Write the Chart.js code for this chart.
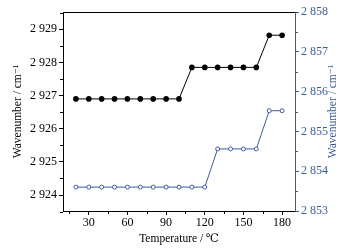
<!DOCTYPE html>
<html>
<head>
<meta charset="utf-8">
<script src="https://cdn.jsdelivr.net/npm/chart.js@4/dist/chart.umd.min.js"></script>
<style>
  html, body { margin: 0; padding: 0; background: #fff; }
  #wrap { width: 350px; height: 248px; }
</style>
</head>
<body>
<div id="wrap"><canvas id="chart" width="350" height="248"></canvas></div>
<script>
'use strict';

// data
const temperatures = [20, 30, 40, 50, 60, 70, 80, 90, 100, 110, 120, 130, 140, 150, 160, 170, 180];
const blackSeries = [2926.9, 2926.9, 2926.9, 2926.9, 2926.9, 2926.9, 2926.9, 2926.9, 2926.9,
  2927.85, 2927.85, 2927.85, 2927.85, 2927.85, 2927.85, 2928.82, 2928.82];
const blueSeries = [2853.6, 2853.6, 2853.6, 2853.6, 2853.6, 2853.6, 2853.6, 2853.6, 2853.6, 2853.6, 2853.6,
  2854.56, 2854.56, 2854.56, 2854.56, 2855.52, 2855.52];

const xTicks = [30, 60, 90, 120, 150, 180];
const leftTicks = [2924, 2925, 2926, 2927, 2928, 2929];
const rightTicks = [2853, 2854, 2855, 2856, 2857, 2858];
const yTitle = 'Wavenumber / cm\u207B\u00B9';

const blue = '#3d5b9b';
const family = '"Liberation Serif", "DejaVu Serif", serif';
const tickFont = { family, size: 12 };
const titleFont = { family, size: 11.5 };

const fmt = v => {
  const s = String(Math.round(v));
  return s.length > 3 ? s.slice(0, s.length - 3) + ' ' + s.slice(-3) : s;
};

// minor ticks halfway between the major ones, drawn outward, plus the top frame
// and the right title (which reads bottom to top like the left one)
const extras = {
  id: 'extras',
  afterDraw(chart) {
    const ctx = chart.ctx;
    const area = chart.chartArea;
    ctx.save();
    ctx.lineWidth = 1;

    const xs = chart.scales.x;
    ctx.strokeStyle = '#000';
    for (let v = 15; v <= 185; v += 30) {
      const px = Math.round(xs.getPixelForValue(v)) + 0.5;
      ctx.beginPath(); ctx.moveTo(px, area.bottom); ctx.lineTo(px, area.bottom + 3); ctx.stroke();
    }
    const yl = chart.scales.y;
    for (let v = 2923.5; v <= 2929.5; v += 1) {
      const py = Math.round(yl.getPixelForValue(v)) + 0.5;
      ctx.beginPath(); ctx.moveTo(area.left, py); ctx.lineTo(area.left - 3, py); ctx.stroke();
    }
    const yr = chart.scales.y1;
    ctx.strokeStyle = blue;
    for (let v = 2853.5; v <= 2858; v += 1) {
      const py = Math.round(yr.getPixelForValue(v)) + 0.5;
      ctx.beginPath(); ctx.moveTo(area.right, py); ctx.lineTo(area.right + 3, py); ctx.stroke();
    }
    ctx.strokeStyle = '#000';
    ctx.beginPath(); ctx.moveTo(area.left, area.top + 0.5); ctx.lineTo(area.right, area.top + 0.5); ctx.stroke();

    ctx.translate(333, (area.top + area.bottom) / 2);
    ctx.rotate(-Math.PI / 2);
    ctx.fillStyle = blue;
    ctx.font = `${titleFont.size}px ${family}`;
    ctx.textAlign = 'center';
    ctx.textBaseline = 'middle';
    ctx.fillText(yTitle, 0, 0);
    ctx.restore();
  }
};

new Chart(document.getElementById('chart'), {
  type: 'line',
  data: {
    datasets: [
      {
        data: temperatures.map((t, i) => ({ x: t, y: blackSeries[i] })),
        yAxisID: 'y',
        borderColor: '#000',
        borderWidth: 1,
        pointRadius: 2.8,
        pointBackgroundColor: '#000',
        pointBorderColor: '#000',
        pointBorderWidth: 0,
        tension: 0,
      },
      {
        data: temperatures.map((t, i) => ({ x: t, y: blueSeries[i] })),
        yAxisID: 'y1',
        borderColor: blue,
        borderWidth: 1,
        pointRadius: 2,
        pointBackgroundColor: '#fff',
        pointBorderColor: blue,
        pointBorderWidth: 1,
        tension: 0,
      },
    ],
  },
  options: {
    responsive: false,
    animation: false,
    events: [],
    layout: { padding: { top: 12, left: 0, right: 0, bottom: 0 } },
    plugins: { legend: { display: false }, tooltip: { enabled: false } },
    scales: {
      x: {
        type: 'linear',
        min: 10,
        max: 190,
        afterBuildTicks: s => { s.ticks = xTicks.map(v => ({ value: v })); },
        afterFit: s => { s.height = 37; },
        border: { color: '#000', width: 1 },
        grid: { drawOnChartArea: false, tickLength: 4, tickColor: '#000' },
        ticks: { color: '#000', font: tickFont, padding: 1, maxRotation: 0 },
        title: { display: true, text: 'Temperature / \u2103', color: '#000', font: titleFont, padding: { top: 0, bottom: 2 } },
      },
      y: {
        position: 'left',
        min: 2923.52,
        max: 2929.52,
        afterBuildTicks: s => { s.ticks = leftTicks.map(v => ({ value: v })); },
        afterFit: s => { s.width = 63; },
        border: { color: '#000', width: 1 },
        grid: { drawOnChartArea: false, tickLength: 4, tickColor: '#000' },
        ticks: { color: '#000', font: tickFont, padding: 2, callback: fmt },
        title: { display: true, text: yTitle, color: '#000', font: titleFont, padding: { top: 11, bottom: 0 } },
      },
      y1: {
        position: 'right',
        min: 2853,
        max: 2858,
        afterBuildTicks: s => { s.ticks = rightTicks.map(v => ({ value: v })); },
        afterFit: s => { s.width = 55; },
        border: { color: blue, width: 1 },
        grid: { drawOnChartArea: false, tickLength: 4, tickColor: blue },
        ticks: { color: blue, font: tickFont, padding: 2, callback: fmt },
      },
    },
  },
  plugins: [extras],
});
</script>
</body>
</html>
